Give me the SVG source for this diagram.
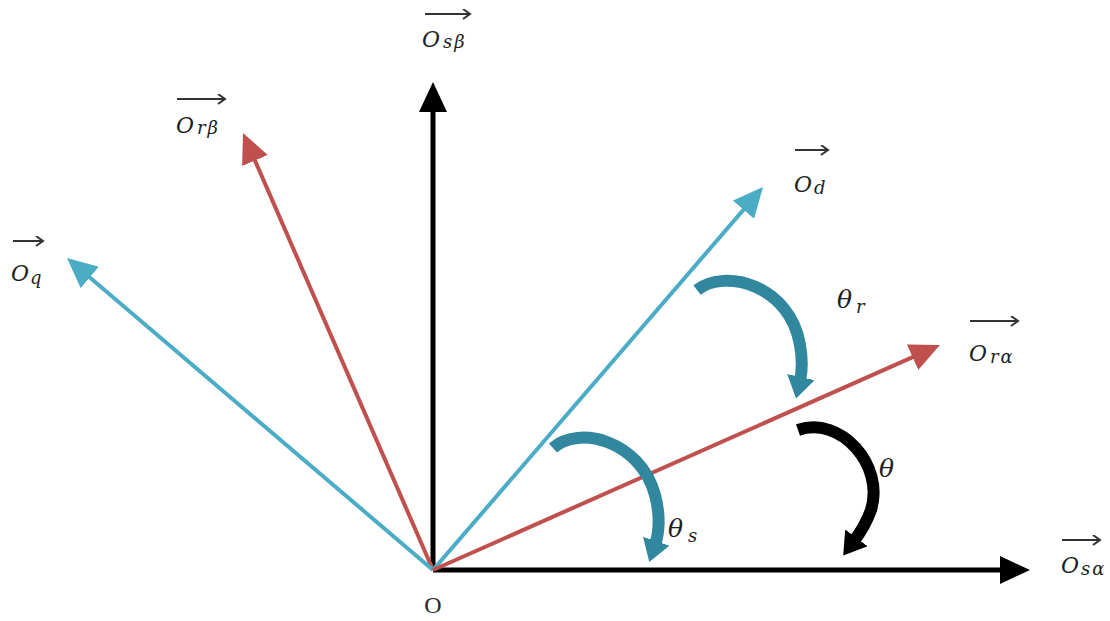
<svg xmlns="http://www.w3.org/2000/svg" width="1110" height="621" viewBox="0 0 1110 621">
<style>
.blk{stroke:#000;stroke-width:5;fill:none}
.red{stroke:#c0504d;stroke-width:4;fill:none}
.cyn{stroke:#4bacc6;stroke-width:4;fill:none}
.arcC{stroke:#31879e;stroke-width:12;fill:none}
.arcK{stroke:#000;stroke-width:12;fill:none}
.ov{stroke:#333;stroke-width:2;fill:none}
.m{font-family:"DejaVu Serif","Liberation Serif",serif;font-style:italic;fill:#1e1e1e}
.L{font-size:22px}
.S{font-size:18px;letter-spacing:2px}
.T{font-size:25px}
.o{font-family:"Liberation Serif","DejaVu Serif",serif;font-size:24px;fill:#2a2a2a}
</style>
<defs>
<marker id="hK" markerUnits="userSpaceOnUse" markerWidth="32" markerHeight="30" refX="18" refY="14" orient="auto"><path d="M0,0 L30,14 L0,28 z" fill="#000"/></marker>
<marker id="hR" markerUnits="userSpaceOnUse" markerWidth="32" markerHeight="30" refX="18" refY="14" orient="auto"><path d="M0,0 L30,14 L0,28 z" fill="#c0504d"/></marker>
<marker id="hC" markerUnits="userSpaceOnUse" markerWidth="32" markerHeight="30" refX="18" refY="14" orient="auto"><path d="M0,0 L30,14 L0,28 z" fill="#4bacc6"/></marker>
<marker id="aC" markerUnits="userSpaceOnUse" markerWidth="26" markerHeight="30" refX="4" refY="14" orient="auto"><path d="M0,0 L22,14 L0,28 z" fill="#31879e"/></marker>
<marker id="aK" markerUnits="userSpaceOnUse" markerWidth="26" markerHeight="30" refX="4" refY="14" orient="auto"><path d="M0,0 L22,14 L0,28 z" fill="#000"/></marker>
<marker id="ov" markerUnits="userSpaceOnUse" markerWidth="10" markerHeight="12" refX="8" refY="5" orient="auto"><path d="M1,0 L8,5 L1,10" stroke="#333" stroke-width="2" fill="none"/></marker>
</defs>
<rect width="1110" height="621" fill="#fff"/>
<g id="connectors">
<line class="blk" x1="433" y1="570" x2="1018" y2="570" marker-end="url(#hK)"/>
<line class="blk" x1="433" y1="570" x2="433" y2="94" marker-end="url(#hK)"/>
<line class="red" x1="433" y1="570" x2="247.8" y2="144" marker-end="url(#hR)"/>
<line class="cyn" x1="433" y1="570" x2="76.1" y2="265.8" marker-end="url(#hC)"/>
<line class="cyn" x1="433" y1="570" x2="755.2" y2="196.1" marker-end="url(#hC)"/>
<line class="red" x1="433" y1="570" x2="929" y2="349.9" marker-end="url(#hR)"/>
<path class="arcC" d="M553,448 C578,425 640,440 655,495 C661,518 659,533 655,545" marker-end="url(#aC)"/>
<path class="arcC" d="M697,290 C725,268 790,285 800,345 C803,362 802,372 800,381" marker-end="url(#aC)"/>
<path class="arcK" d="M798,430 C840,415 885,465 871,510 C866,524 860,533 854,541" marker-end="url(#aK)"/>
</g>
<g id="label-osb">
<line class="ov" x1="425" y1="14" x2="470" y2="14" marker-end="url(#ov)"/>
<text class="m L" x="422" y="47">O</text><text class="m S" x="443" y="48">sβ</text>
</g>
<g id="label-orb">
<line class="ov" x1="177" y1="99" x2="225" y2="99" marker-end="url(#ov)"/>
<text class="m L" x="176" y="133">O</text><text class="m S" x="197" y="134">rβ</text>
</g>
<g id="label-oq">
<line class="ov" x1="13" y1="241" x2="43" y2="241" marker-end="url(#ov)"/>
<text class="m L" x="11" y="281">O</text><text class="m S" x="30" y="284">q</text>
</g>
<g id="label-od">
<line class="ov" x1="795" y1="150" x2="828" y2="150" marker-end="url(#ov)"/>
<text class="m L" x="794" y="192">O</text><text class="m S" x="814" y="194">d</text>
</g>
<g id="label-ora">
<line class="ov" x1="970" y1="321" x2="1018" y2="321" marker-end="url(#ov)"/>
<text class="m L" x="969" y="361">O</text><text class="m S" x="990" y="363">rα</text>
</g>
<g id="label-osa">
<line class="ov" x1="1062" y1="540" x2="1100" y2="540" marker-end="url(#ov)"/>
<text class="m L" x="1061" y="573">O</text><text class="m S" x="1081" y="575">sα</text>
</g>
<g id="label-thetar">
<text class="m T" x="837" y="308">θ</text><text class="m S" x="856" y="313">r</text>
</g>
<g id="label-theta">
<text class="m T" x="879" y="477">θ</text>
</g>
<g id="label-thetas">
<text class="m T" x="668" y="537">θ</text><text class="m S" x="688" y="542">s</text>
</g>
<g id="origin">
<text class="o" x="433" y="613" text-anchor="middle">O</text>
</g>
</svg>
